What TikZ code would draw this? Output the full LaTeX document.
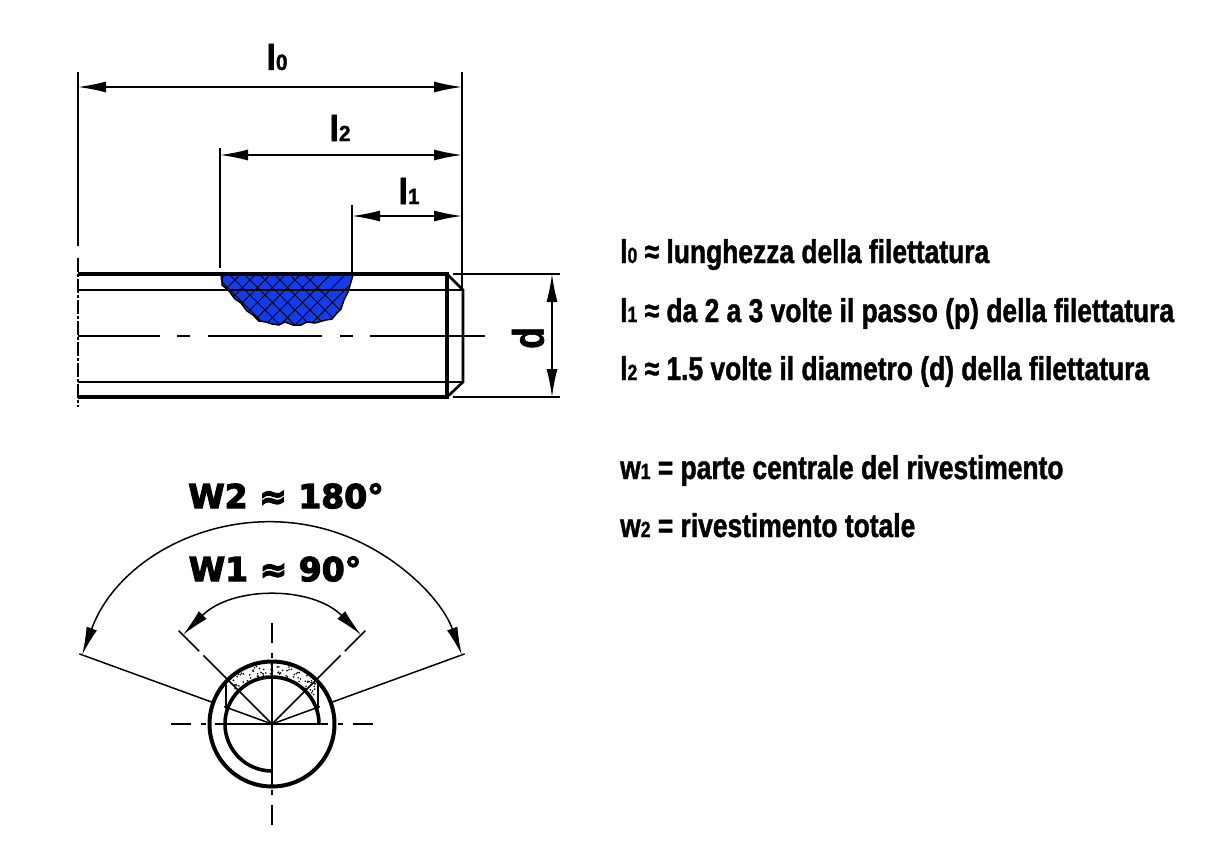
\documentclass[tikz,border=0pt]{standalone}
\usepackage{fontspec}
\setmainfont{Liberation Sans}[BoldFont={Liberation Sans Bold}]
\newfontfamily\narrowfont{Liberation Sans Bold}[FakeStretch=0.8, FakeBold=1.2]
\newfontfamily\dimfont{Liberation Sans Bold}[FakeStretch=0.95, FakeBold=1.6]
\newfontfamily\wideangle{DejaVu Sans Bold}[FakeStretch=1.0, FakeBold=3.5]
\usetikzlibrary{arrows.meta}
\definecolor{coating}{RGB}{20,60,235}
\tikzset{
  thinline/.style = {line width = 1.5},
  thickline/.style = {line width = 3.6},
  dimline/.style = {line width = 1.5, {Latex[length=28, width=11]}-{Latex[length=28, width=11]}},
  lab/.style = {font = \narrowfont\fontsize{33}{33}\selectfont, inner sep = 0, anchor = base west},
  dimlab/.style = {font = \dimfont\fontsize{36}{36}\selectfont, inner sep = 0},
  anglab/.style = {font = \wideangle\fontsize{33}{33}\selectfont, inner sep = 0},
}
\newcommand{\smallidx}[1]{{\fontsize{22}{22}\selectfont #1}}
\begin{document}
\begin{tikzpicture}[x=1pt, y=-1pt]
  \useasboundingbox (0, 0) rectangle (1219, 860);

  % coating
  \begin{scope}
    \clip (220, 275) -- (222, 285) -- (229, 291) -- (235, 299) -- (241, 303) -- (247, 311) -- (253, 315) -- (259, 321) -- (266, 322) -- (272, 324) -- (279, 325) -- (285, 322) -- (293, 325) -- (301, 325) -- (307, 322) -- (315, 323) -- (326, 320) -- (332, 319) -- (337, 313) -- (341, 309) -- (344, 300) -- (348, 292) -- (353, 275) -- cycle;
    \fill [coating] (215, 270) rectangle (360, 330);
    \foreach \k in {0, 15, ..., 180} {
      \draw [line width = 1] (\k + 160, 340) -- +(80, -80);
      \draw [line width = 1] (\k + 190, 340) -- +(-80, -80);
    }
  \end{scope}
  \draw [line width = 1.5] (222, 276) -- (222, 285) -- (229, 291) -- (235, 299) -- (241, 303) -- (247, 311) -- (253, 315) -- (259, 321) -- (266, 322) -- (272, 324) -- (279, 325) -- (285, 322) -- (293, 325) -- (301, 325) -- (307, 322) -- (315, 323) -- (326, 320) -- (332, 319) -- (337, 313) -- (341, 309) -- (344, 300) -- (348, 292) -- (353, 275);

  % pin
  \draw [thickline] (78, 274) -- (447, 274) -- (447, 397) -- (78, 397);
  \draw [line width = 2.6] (447, 274) -- (463, 290) -- (463, 382) -- (447, 397);
  \draw [thinline] (78, 290) -- (463, 290);
  \draw [thinline] (78, 382) -- (463, 382);
  \draw [thinline, dash pattern = on 82 off 17 on 13 off 18 on 114 off 18 on 13 off 17 on 115] (78, 336) -- (485, 336);
  \draw [thinline, dash pattern = on 14 off 2 on 3 off 2] (78, 258) -- (78, 407);

  % dimensions
  \coordinate (l0a) at (78, 87);
  \coordinate (l0b) at (462, 87);
  \coordinate (l2a) at (220, 155);
  \coordinate (l2b) at (462, 155);
  \coordinate (l1a) at (352, 216);
  \coordinate (l1b) at (462, 216);
  \draw [thinline] (78, 72) -- (78, 246);
  \draw [thinline] (462, 72) -- (462, 290);
  \draw [thinline] (220, 148) -- (220, 268);
  \draw [thinline] (352, 205) -- (352, 272);
  \draw [dimline] (l0a) -- (l0b);
  \draw [dimline] (l2a) -- (l2b);
  \draw [dimline] (l1a) -- (l1b);
  \draw [thinline] (453, 274) -- (560, 274);
  \draw [thinline] (453, 397) -- (560, 397);
  \coordinate (da) at (552, 274);
  \coordinate (db) at (552, 397);
  \draw [dimline] (da) -- (db);

  \node [dimlab] (l0) at (277, 57) {l\smallidx{0}};
  \node [dimlab] (l2) at (340, 128) {l\smallidx{2}};
  \node [dimlab] (l1) at (409, 191) {l\smallidx{1}};
  \node [dimlab, font = \narrowfont\fontsize{44}{44}\selectfont, rotate = 90] (dlab) at (528, 338) {d};

  % legend
  \node [lab] (t0) at (620, 263) {l\smallidx{0} ≈ lunghezza della filettatura};
  \node [lab] (t1) at (620, 322) {l\smallidx{1} ≈ da 2 a 3 volte il passo (p) della filettatura};
  \node [lab] (t2) at (620, 380) {l\smallidx{2} ≈ 1.5 volte il diametro (d) della filettatura};
  \node [lab] (t3) at (620, 479) {w\smallidx{1} = parte centrale del rivestimento};
  \node [lab] (t4) at (620, 537) {w\smallidx{2} = rivestimento totale};

  % section
  \coordinate (c) at (272, 724);
  \begin{scope}[shift = {(c)}]
    \pgfmathsetseed{7}
    \foreach \i in {1, ..., 75} {
      \pgfmathsetmacro{\ang}{-35 - 110 * rnd}
      \pgfmathsetmacro{\rad}{49 + 11 * rnd}
      \fill (\ang : \rad) circle (0.9);
    }
    \draw [thinline] (-46, -15) -- (-46, -40) (46, -15) -- (46, -40);
    \draw [line width = 4] (0, 0) circle (62.5);
    \draw [thickline] (47, 0) arc (0 : -270 : 47);
    % centre lines
    \draw [thinline] (-57, 0) -- (56, 0);
    \draw [thinline] (0, -62) -- (0, 62);
    \foreach \a in {0, 90, 180, 270} {
      \draw [thinline] (\a : 66) -- (\a : 71) (\a : 81) -- (\a : 101);
    }
    % radial lines
    \foreach \a in {-45, -135} {
      \draw [thinline] (0, 0) -- (\a : 97) (\a : 103) -- (\a : 132);
    }
    \foreach \a in {-20, -160} {
      \draw [thinline] (0, 0) -- (\a : 51) (\a : 64) -- (\a : 205);
    }
    \draw [dimline] (-160 : 202) arc (-160 : -20 : 202);
    \draw [dimline] (-135 : 126) arc (-135 : -45 : 126);
  \end{scope}
  \node [anglab] (w2) at (286, 496) {W2 ≈ 180°};
  \node [anglab] (w1) at (275, 569) {W1 ≈ 90°};
\end{tikzpicture}
\end{document}
